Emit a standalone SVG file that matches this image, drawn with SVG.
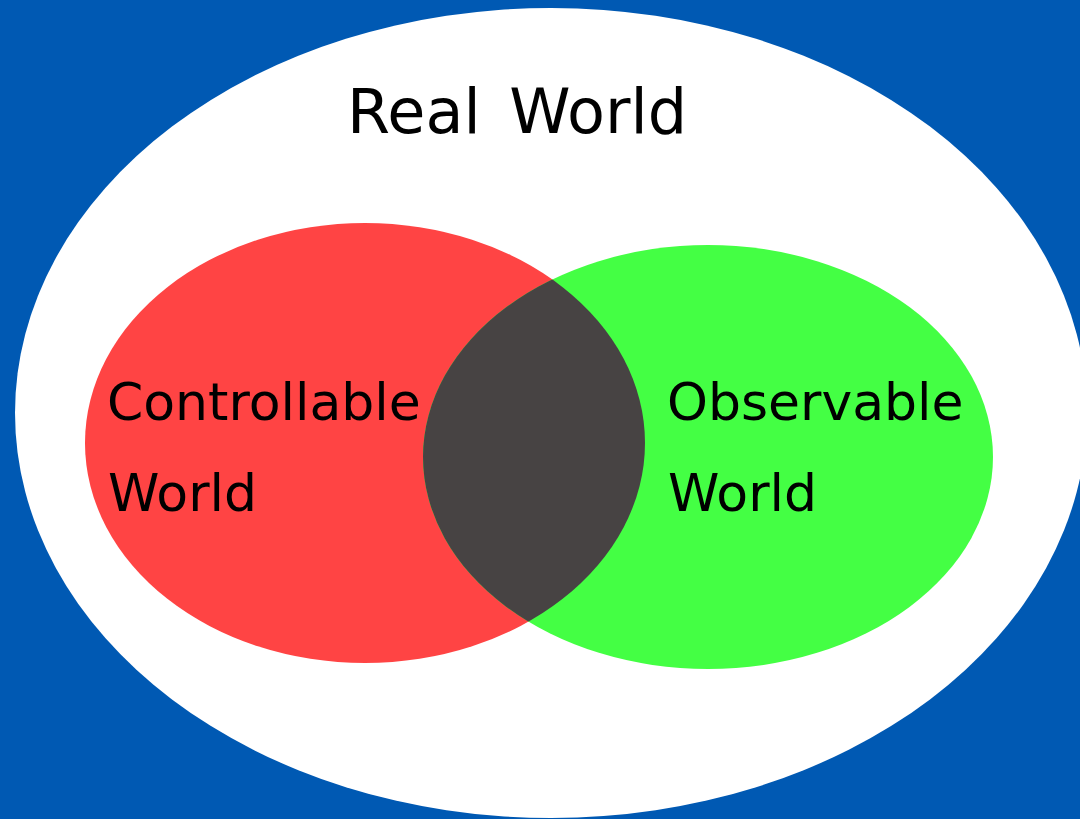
<svg xmlns="http://www.w3.org/2000/svg" width="1080" height="819" viewBox="0 0 1080 819">
<style>
text{font-family:"DejaVu Sans","Verdana",sans-serif;fill:#000}
.lbl{font-size:52px}
</style>
<defs>
<clipPath id="redClip"><ellipse cx="365" cy="443" rx="280" ry="220"/></clipPath>
</defs>
<rect width="1080" height="819" fill="#0059B3"/>
<g id="real-world">
<ellipse cx="551" cy="413" rx="536" ry="405" fill="#FFFFFF"/>
<text x="347" y="133" font-size="62" word-spacing="9">Real World</text>
</g>
<g id="controllable-world">
<ellipse cx="365" cy="443" rx="280" ry="220" fill="#FF4444"/>
</g>
<g id="observable-world">
<ellipse cx="708" cy="457" rx="285" ry="212" fill="#44FF44"/>
</g>
<g id="intersection">
<ellipse cx="708" cy="457" rx="285" ry="212" fill="#474343" clip-path="url(#redClip)"/>
</g>
<g id="labels">
<text class="lbl" x="107" y="420">Controllable</text>
<text class="lbl" x="108" y="511">World</text>
<text class="lbl" x="667" y="420">Observable</text>
<text class="lbl" x="668" y="511">World</text>
</g>
</svg>
